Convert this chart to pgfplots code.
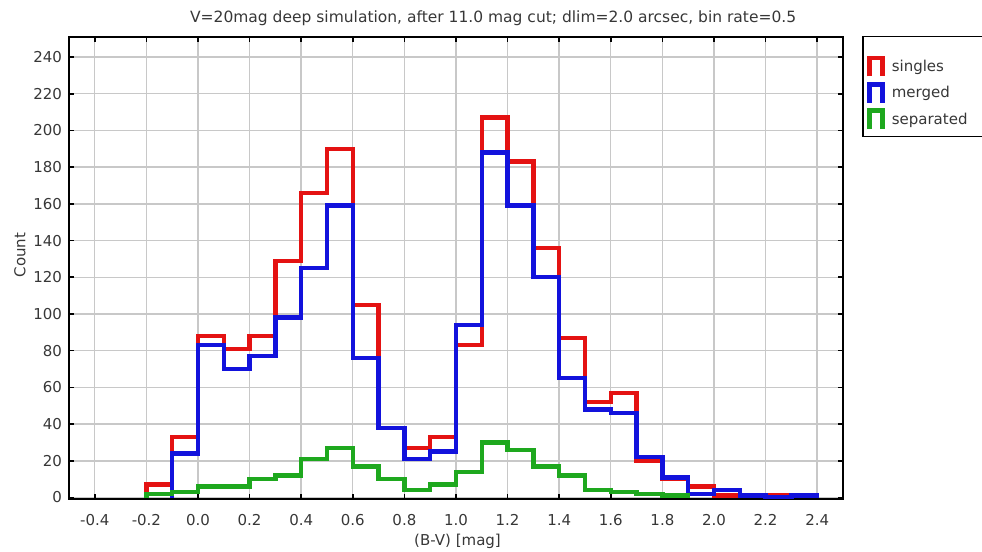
\documentclass[border=0pt]{standalone}
\usepackage{fontspec}
\setmainfont{DejaVu Sans}
\usepackage{pgfplots}
\pgfplotsset{compat=1.18}
\definecolor{hred}{RGB}{228,18,18}
\definecolor{hblue}{RGB}{18,18,220}
\definecolor{hgreen}{RGB}{30,168,30}
\definecolor{gridgray}{RGB}{200,200,200}
\definecolor{txtgray}{RGB}{55,55,55}

\begin{document}
\begin{tikzpicture}
\begin{axis}[
    scale only axis,
    width=387pt, height=231pt,
    xmin=-0.5, xmax=2.5,
    ymin=-0.8, ymax=250.9,
    xtick={-0.4,-0.2,...,2.41},
    ytick={0,20,...,240},
    grid=major,
    major grid style={gridgray, line width=0.7pt},
    axis line style={black, line width=1pt},
    tick style={black, line width=0.8pt},
    major tick length=2.5pt,
    tick align=inside,
    font=\fontsize{7.5}{9}\selectfont,
    ticklabel style={font=\fontsize{7.5}{9}\selectfont, text=txtgray},
    /pgf/number format/assume math mode=true,
    xticklabel style={/pgf/number format/.cd, fixed, fixed zerofill, precision=1},
    xticklabel shift=4pt,
    yticklabel style={/pgf/number format/fixed},
    every axis title shift=0pt,
    title={V=20mag deep simulation, after 11.0 mag cut; dlim=2.0 arcsec, bin rate=0.5},
    title style={at={(0.548,1)}, anchor=center, yshift=9.5pt, text=txtgray,
        font=\fontsize{7.75}{9}\selectfont},
    xlabel={(B-V) [mag]},
    xlabel style={at={(axis description cs:0.502,-0.0924)}, anchor=center, text=txtgray},
    ylabel={Count},
    ylabel style={at={(axis description cs:-0.0633,0.528)}, anchor=center, text=txtgray},
    legend style={at={(1.031,0.96)}, anchor=north west, draw=none, fill=none,
        font=\fontsize{7.5}{9}\selectfont, inner sep=0pt,
        row sep=1.75pt, nodes={inner sep=0.5pt, text=txtgray},
        /tikz/every odd column/.append style={column sep=3pt}},
    legend cell align=left,
    legend image code/.code={
        \draw[#1] (0pt,-4.6pt) -- (0pt,4.6pt) -- (6.5pt,4.6pt) -- (6.5pt,-4.6pt);
    },
    every axis plot/.append style={const plot, line width=2.2pt, line join=miter, mark=none},
]

% singles
\addplot[hred] coordinates {
    (-0.2,0) (-0.2,7) (-0.1,33) (0.0,88) (0.1,81) (0.2,88) (0.3,129)
    (0.4,166) (0.5,190) (0.6,105) (0.7,38) (0.8,27) (0.9,33) (1.0,83)
    (1.1,207) (1.2,183) (1.3,136) (1.4,87) (1.5,52) (1.6,57) (1.7,20)
    (1.8,10) (1.9,6) (2.0,1) (2.1,1) (2.2,1) (2.3,1) (2.4,0)
};

% merged
\addplot[hblue] coordinates {
    (-0.1,0) (-0.1,24) (0.0,83) (0.1,70) (0.2,77) (0.3,98) (0.4,125)
    (0.5,159) (0.6,76) (0.7,38) (0.8,21) (0.9,25) (1.0,94) (1.1,188)
    (1.2,159) (1.3,120) (1.4,65) (1.5,48) (1.6,46) (1.7,22) (1.8,11)
    (1.9,2) (2.0,4) (2.1,1) (2.2,0) (2.3,1) (2.4,0)
};

% separated
\addplot[hgreen] coordinates {
    (-0.2,0) (-0.2,2) (-0.1,3) (0.0,6) (0.1,6) (0.2,10) (0.3,12)
    (0.4,21) (0.5,27) (0.6,17) (0.7,10) (0.8,4) (0.9,7) (1.0,14)
    (1.1,30) (1.2,26) (1.3,17) (1.4,12) (1.5,4) (1.6,3) (1.7,2)
    (1.8,1) (1.9,0)
};

\legend{singles, merged, separated}
\end{axis}
% legend frame, running off the right edge as in the original
\draw[black, line width=0.8pt] (396.9pt,231.3pt) rectangle (475pt,181.2pt);
\pgfresetboundingbox
\path[use as bounding box] (-34.5pt,-26.5pt) rectangle (456.5pt,249.5pt);
\end{tikzpicture}
\end{document}
